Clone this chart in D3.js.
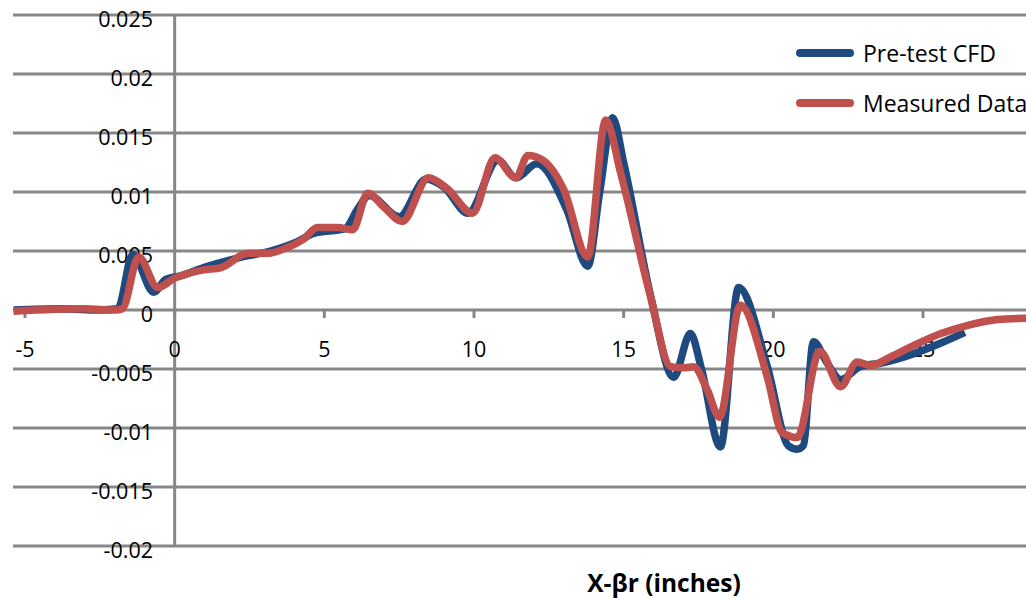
<!DOCTYPE html>
<html>
<head>
<meta charset="utf-8">
<script src="https://cdn.jsdelivr.net/npm/d3@7"></script>
<style>
  html, body { margin: 0; padding: 0; background: #fff; }
  svg { display: block; }
  text { font-family: "Open Sans", "Liberation Sans", sans-serif; fill: #000; }
</style>
</head>
<body>
<svg id="chart" width="1026" height="598"></svg>
<script>
// ---- data ----
const seriesNames = ["Pre-test CFD", "Measured Data"];
const xCFD = [-5.38, -3.8, -2.5, -1.9, -1.4, -0.7, -0.3, 0.2, 0.97, 2.1, 3.2, 4.1, 4.65, 5.5, 5.7, 6.1, 6.5, 7.5, 8.4, 9.0, 9.8, 10.8, 11.4, 12.1, 13.1, 13.8, 14.2, 14.63, 15.0, 15.9, 16.67, 17.23, 17.6, 18.23, 18.84, 19.8, 20.5, 20.8, 21.0, 21.34, 21.8, 22.25, 22.9, 23.6, 24.7, 25.6, 26.4];
const yCFD = [0, 0.0001, 0, 0.0001, 0.0047, 0.0015, 0.0026, 0.0029, 0.0036, 0.0044, 0.005, 0.0058, 0.0065, 0.0068, 0.0069, 0.0085, 0.0097, 0.0079, 0.0111, 0.0104, 0.0082, 0.0127, 0.0112, 0.0124, 0.0085, 0.0037, 0.0100, 0.0163, 0.0125, 0.0012, -0.0057, -0.002, -0.005, -0.0116, 0.0019, -0.0048, -0.0115, -0.0118, -0.0115, -0.0027, -0.0045, -0.0059, -0.0048, -0.0045, -0.0037, -0.0028, -0.0019];
const xMeas = [-5.38, -3, -2, -1.75, -1.2, -0.57, 0, 0.97, 1.55, 2.45, 3.1, 3.77, 4.3, 4.77, 5.44, 5.95, 6.45, 7.0, 7.6, 8.48, 9.1, 9.95, 10.7, 11.4, 11.8, 12.3, 13.0, 13.8, 14.4, 14.9, 15.9, 16.57, 17.0, 17.33, 17.8, 18.2, 18.9, 19.8, 20.3, 20.8, 21.55, 22.25, 22.8, 23.25, 23.9, 24.7, 25.6, 26.5, 27.5, 28.5];
const yMeas = [-0.0001, 0.0001, 0, 0.0001, 0.0045, 0.0019, 0.0027, 0.0034, 0.0036, 0.0048, 0.0048, 0.0053, 0.006, 0.007, 0.007, 0.0068, 0.0099, 0.0087, 0.0075, 0.0112, 0.0103, 0.0082, 0.0129, 0.0112, 0.0131, 0.0127, 0.0102, 0.0045, 0.0161, 0.0116, 0.0011, -0.0048, -0.0049, -0.0048, -0.0068, -0.0091, 0.0004, -0.0057, -0.0104, -0.0108, -0.0035, -0.0065, -0.0044, -0.0047, -0.004, -0.003, -0.002, -0.0013, -0.0008, -0.0007];
const xTicks = [-5, 0, 5, 10, 15, 20, 25];
const yTicks = [0.025, 0.02, 0.015, 0.01, 0.005, 0, -0.005, -0.01, -0.015, -0.02];
const xTitle = "X-βr (inches)";

// ---- layout ----
const svg = d3.select("#chart");
const plotLeft = 13, plotRight = 1040;
const x = d3.scaleLinear().domain([-5, 25]).range([25, 923]);
const y = d3.scaleLinear().domain([-0.02, 0.025]).range([546, 15]);
const gridColor = "#878787";
const colors = ["#1F4A7F", "#C0504D"];

// gridlines
svg.append("g").selectAll("line").data(yTicks).join("line")
  .attr("x1", plotLeft).attr("x2", plotRight)
  .attr("y1", d => y(d)).attr("y2", d => y(d))
  .attr("stroke", gridColor).attr("stroke-width", 3);

// vertical axis at x=0
svg.append("line")
  .attr("x1", x(0)).attr("x2", x(0)).attr("y1", y(0.025)).attr("y2", y(-0.02))
  .attr("stroke", gridColor).attr("stroke-width", 3);

// x tick marks on y=0 axis
svg.append("g").selectAll("line").data(xTicks).join("line")
  .attr("x1", d => x(d)).attr("x2", d => x(d))
  .attr("y1", y(0)).attr("y2", y(0) + 8)
  .attr("stroke", gridColor).attr("stroke-width", 3);

// y tick labels
svg.append("g").selectAll("text").data(yTicks).join("text")
  .attr("x", 153).attr("y", d => y(d) + 3)
  .attr("text-anchor", "end").attr("dominant-baseline", "central")
  .attr("font-size", 21.5)
  .text(d => String(d));

// x tick labels
svg.append("g").selectAll("text").data(xTicks).join("text")
  .attr("x", d => x(d)).attr("y", 348)
  .attr("text-anchor", "middle").attr("dominant-baseline", "central")
  .attr("font-size", 21.5)
  .text(d => String(d));

// lines
const line = d3.line().x(d => x(d[0])).y(d => y(d[1])).curve(d3.curveMonotoneX);
const dataCFD = xCFD.map((v, i) => [v, yCFD[i]]);
const dataMeas = xMeas.map((v, i) => [v, yMeas[i]]);
[dataCFD, dataMeas].forEach((dat, i) => {
  svg.append("path").datum(dat)
    .attr("d", line)
    .attr("fill", "none")
    .attr("stroke", colors[i])
    .attr("stroke-width", 7.5)
    .attr("stroke-linejoin", "round");
});

// legend
const legendY = [53, 103];
seriesNames.forEach((name, i) => {
  svg.append("line")
    .attr("x1", 800).attr("x2", 850)
    .attr("y1", legendY[i]).attr("y2", legendY[i])
    .attr("stroke", colors[i]).attr("stroke-width", 8)
    .attr("stroke-linecap", "round");
  svg.append("text")
    .attr("x", 863).attr("y", legendY[i])
    .attr("dominant-baseline", "central")
    .attr("font-size", 23)
    .text(name);
});

// x axis title
svg.append("text")
  .attr("x", 664).attr("y", 582)
  .attr("text-anchor", "middle").attr("dominant-baseline", "central")
  .attr("font-size", 24.5).attr("font-weight", "bold")
  .text(xTitle);
</script>
</body>
</html>
